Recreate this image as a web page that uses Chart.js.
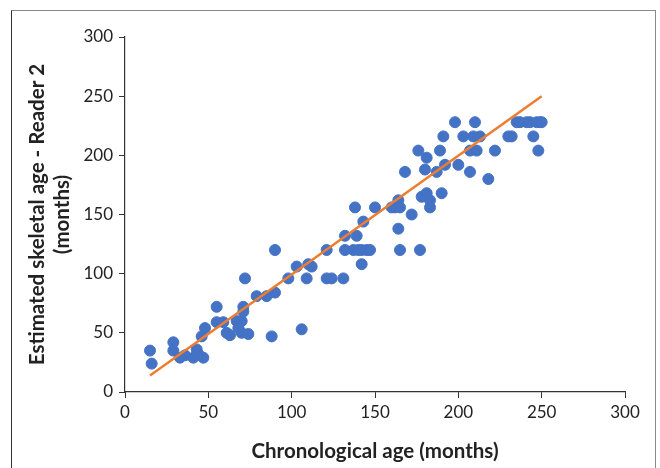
<!DOCTYPE html>
<html>
<head>
<meta charset="utf-8">
<script src="https://cdn.jsdelivr.net/npm/chart.js@4"></script>
<style>
  body { margin: 0; background: #fff; }
  .wrap { position: relative; width: 660px; height: 468px; }
  .frame { position: absolute; left: 11px; top: 10px; width: 643px; height: 470px;
    border-top: 1px solid #8a8a8a; border-right: 1px solid #8a8a8a; border-left: 1px solid #333; }
  canvas { position: absolute; left: 0; top: 0; }
</style>
</head>
<body>
<div class="wrap">
  <div class="frame"></div>
  <canvas id="chart" width="660" height="468"></canvas>
</div>
<script>
// chronological age (months) vs reader 2 estimate
const ageX = [15, 16, 29, 29, 33, 36, 41, 43, 44, 46, 47, 48, 55, 55, 59, 61, 63, 67, 68, 70,
  70, 71, 71, 72, 74, 79, 85, 88, 90, 90, 98, 103, 106, 109, 110, 112, 121, 121, 124, 131,
  132, 132, 137, 138, 139, 140, 142, 142, 143, 145, 147, 150, 160, 162, 164, 165, 164, 165, 168, 172,
  176, 177, 178, 180, 181, 181, 183, 183, 187, 189, 190, 191, 192, 198, 200, 203, 207, 207, 209, 210,
  211, 213, 218, 222, 230, 232, 235, 237, 241, 243, 245, 247, 249, 248, 250];
const reader2Y = [35, 24, 42, 35, 29, 31, 29, 36, 32, 47, 29, 54, 72, 59, 59, 50, 48, 60, 54, 60,
  50, 72, 68, 96, 49, 81, 81, 47, 84, 120, 96, 106, 53, 96, 108, 106, 120, 96, 96, 96,
  132, 120, 120, 156, 132, 120, 120, 108, 144, 120, 120, 156, 156, 156, 162, 156, 138, 120, 186, 150,
  204, 120, 165, 188, 198, 168, 162, 156, 186, 204, 168, 216, 192, 228, 192, 216, 204, 186, 216, 228,
  204, 216, 180, 204, 216, 216, 228, 228, 228, 228, 216, 228, 228, 204, 228];
const trendX = [15, 250];
const trendY = [14, 250];
const xTicks = [0, 50, 100, 150, 200, 250, 300];

const fontFamily = 'Lato, sans-serif';

const points = ageX.map((x, i) => ({ x: x, y: reader2Y[i] }));
const trend = trendX.map((x, i) => ({ x: x, y: trendY[i] }));

new Chart(document.getElementById('chart'), {
  type: 'scatter',
  data: {
    datasets: [
      {
        label: 'Trend',
        type: 'line',
        data: trend,
        borderColor: '#ED7D31',
        borderWidth: 2.5,
        pointRadius: 0,
        fill: false,
        order: 0,
      },
      {
        label: 'Reader 2',
        data: points,
        backgroundColor: '#4472C4',
        borderColor: '#4472C4',
        pointRadius: 5.5,
        pointHoverRadius: 5.5,
        order: 1,
      },
    ],
  },
  options: {
    responsive: false,
    animation: false,
    layout: { padding: { top: 37, right: 35, left: 25, bottom: 0 } },
    plugins: { legend: { display: false }, tooltip: { enabled: false } },
    scales: {
      x: {
        type: 'linear',
        min: 0,
        max: 300,
        afterBuildTicks: (scale) => { scale.ticks = xTicks.map((v) => ({ value: v })); },
        afterFit: (scale) => { scale.height = 76; },
        border: { display: true, color: '#333', width: 1.2 },
        grid: { display: true, drawOnChartArea: false, drawTicks: true, tickLength: 6, color: '#333' },
        ticks: { color: '#222', font: { family: fontFamily, size: 17 }, padding: 4, maxRotation: 0 },
        title: {
          display: true,
          text: 'Chronological age (months)',
          color: '#222',
          font: { family: fontFamily, size: 20.5, weight: 'bold' },
          padding: { top: 3 },
        },
      },
      y: {
        type: 'linear',
        min: 0,
        max: 300,
        afterFit: (scale) => { scale.width = 100; },
        border: { display: true, color: '#333', width: 1.2 },
        grid: { display: true, drawOnChartArea: false, drawTicks: true, tickLength: 6, color: '#333' },
        ticks: { stepSize: 50, color: '#222', font: { family: fontFamily, size: 17 }, padding: 6 },
        title: {
          display: true,
          text: ['Estimated skeletal age - Reader 2', '(months)'],
          color: '#222',
          font: { family: fontFamily, size: 20.5, weight: 'bold', lineHeight: 1.2 },
          padding: { top: 0, bottom: 4 },
        },
      },
    },
  },
});
</script>
</body>
</html>
